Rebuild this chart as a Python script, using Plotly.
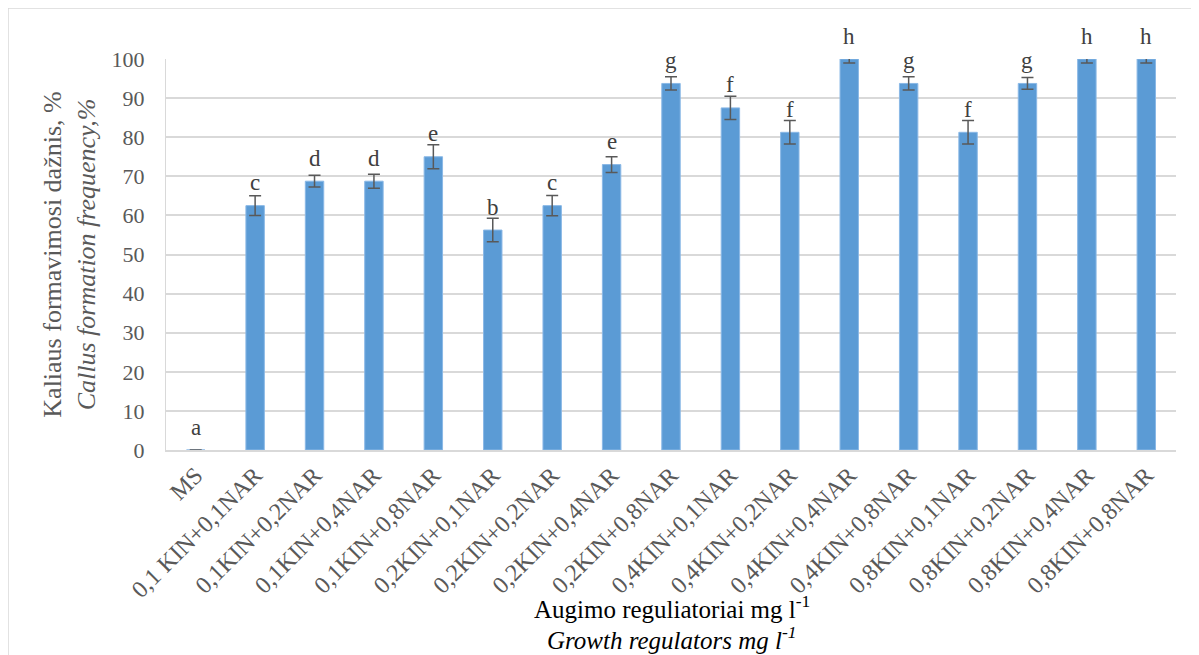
import plotly.graph_objects as go

categories = ["MS", "0,1 KIN+0,1NAR", "0,1KIN+0,2NAR", "0,1KIN+0,4NAR", "0,1KIN+0,8NAR",
              "0,2KIN+0,1NAR", "0,2KIN+0,2NAR", "0,2KIN+0,4NAR", "0,2KIN+0,8NAR",
              "0,4KIN+0,1NAR", "0,4KIN+0,2NAR", "0,4KIN+0,4NAR", "0,4KIN+0,8NAR",
              "0,8KIN+0,1NAR", "0,8KIN+0,2NAR", "0,8KIN+0,4NAR", "0,8KIN+0,8NAR"]
values = [0, 62.5, 68.75, 68.75, 75.0, 56.25, 62.5, 73.0, 93.75,
          87.5, 81.25, 100, 93.75, 81.25, 93.75, 100, 100]
errors = [0, 2.5, 1.5, 1.8, 3.1, 3.0, 2.6, 2.0, 1.7,
          3.0, 3.0, 1.0, 1.7, 3.0, 1.5, 1.0, 1.0]
letters = ["a", "c", "d", "d", "e", "b", "c", "e", "g",
           "f", "f", "h", "g", "f", "g", "h", "h"]
y_ticks = [0, 10, 20, 30, 40, 50, 60, 70, 80, 90, 100]

FONT = "Liberation Serif"
GREY = "#595959"

L, T, PW, PH = 158, 51, 1010, 391
W, H = 1199, 655

fig = go.Figure()
fig.add_trace(go.Bar(
    x=categories, y=values,
    marker=dict(color="#5b9bd5", line=dict(color="#8ab8e6", width=1)),
    error_y=dict(type="data", array=errors, visible=True,
                 color=GREY, thickness=1.5, width=6),
    showlegend=False,
))

for c, v, l in zip(categories, values, letters):
    fig.add_annotation(x=c, y=v, text=l, showarrow=False, yanchor="middle",
                       yshift=23, font=dict(family=FONT, size=23, color="#404040"))

xc = (672 - 8 - L) / PW
fig.add_annotation(
    xref="paper", yref="paper", x=xc, y=(450 - 607) / PH,
    xanchor="center", yanchor="middle",
    text="Augimo reguliatoriai mg l<sup>-1</sup>",
    showarrow=False, font=dict(family=FONT, size=25, color="black"))
fig.add_annotation(
    xref="paper", yref="paper", x=xc, y=(450 - 638) / PH,
    xanchor="center", yanchor="middle",
    text="<i>Growth regulators mg l<sup>-1</sup></i>",
    showarrow=False, font=dict(family=FONT, size=25, color="black"))

fig.add_shape(type="rect", xref="paper", yref="paper",
              x0=-L / PW, x1=1.1, y0=-0.7, y1=1 + T / PH,
              line=dict(color="#d9d9d9", width=1.5), layer="below")

fig.update_layout(
    width=W, height=H,
    margin=dict(l=L, r=W - L - PW, t=T, b=H - T - PH, autoexpand=False),
    paper_bgcolor="white", plot_bgcolor="white",
    bargap=0.69,
    font=dict(family=FONT, color=GREY),
    xaxis=dict(
        tickangle=-45, tickfont=dict(family=FONT, size=24, color=GREY),
        showline=True, linecolor="#d9d9d9", linewidth=1.5,
        showgrid=False, ticks="", automargin=False,
    ),
    yaxis=dict(
        range=[0, 100], tickvals=y_ticks,
        tickfont=dict(family=FONT, size=22, color=GREY),
        showgrid=True, gridcolor="#d9d9d9", gridwidth=1.5,
        showline=True, linecolor="#d9d9d9", linewidth=1,
        zeroline=False, ticks="", ticklabelstandoff=16, automargin=False,
        title=dict(text="Kaliaus formavimosi dažnis, %<br><i>Callus formation frequency,%</i>",
                   font=dict(family=FONT, size=26, color=GREY), standoff=8),
    ),
)

fig.write_html("out.html")
